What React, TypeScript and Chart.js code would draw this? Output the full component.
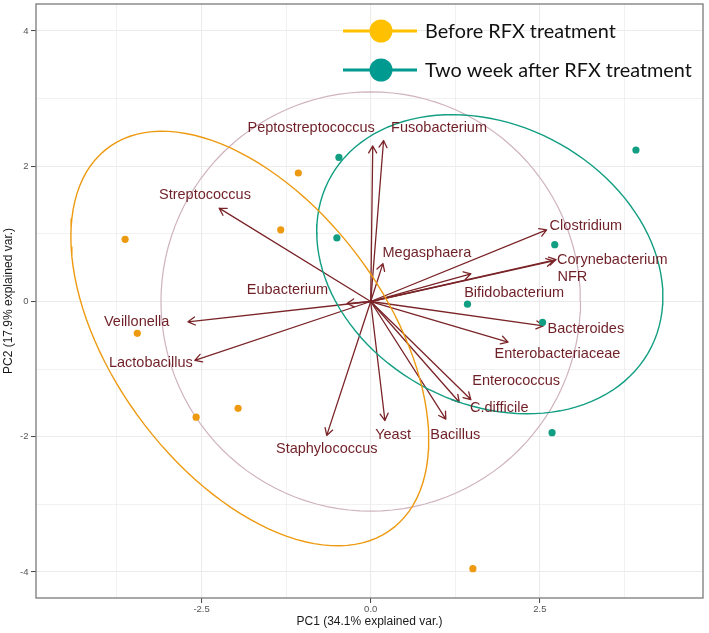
import React, { useEffect, useRef } from "react";
import { Chart, registerables } from "chart.js";

Chart.register(...registerables);

// ---- Sample scores (PC1, PC2) ----
const beforeX = [-3.63, -1.07, -1.33, -3.45, -2.58, -1.96, 1.51];
const beforeY = [0.92, 1.9, 1.06, -0.47, -1.71, -1.58, -3.95];
const afterX = [-0.47, -0.5, 3.92, 2.72, 1.43, 2.54, 2.68];
const afterY = [2.13, 0.94, 2.24, 0.84, -0.04, -0.31, -1.94];

// ---- Variable loadings (arrow tips) and label anchors, in PC units ----
const varNames = [
  "Peptostreptococcus", "Fusobacterium", "Megasphaera", "Streptococcus", "Eubacterium",
  "Veillonella", "Lactobacillus", "Staphylococcus", "Yeast", "Bacillus", "C.difficile",
  "Enterococcus", "Enterobacteriaceae", "Bacteroides", "Bifidobacterium", "NFR",
  "Corynebacterium", "Clostridium",
];
const arrowX = [0.03, 0.19, 0.18, -2.24, -0.35, -2.7, -2.6, -0.65, 0.21, 1.11, 1.48, 1.31, 2.03, 2.55, 1.48, 2.7, 2.74, 2.6];
const arrowY = [2.3, 2.38, 0.56, 1.38, -0.03, -0.3, -0.87, -1.98, -1.76, -1.74, -1.45, -1.49, -0.6, -0.36, 0.41, 0.6, 0.62, 1.06];
const labelX = [-0.88, 1.01, 0.83, -2.45, -1.23, -3.46, -3.25, -0.65, 0.33, 1.25, 1.9, 2.15, 2.76, 3.18, 2.12, 2.98, 3.57, 3.18];
const labelY = [2.57, 2.57, 0.71, 1.58, 0.17, -0.31, -0.91, -2.18, -1.97, -1.97, -1.58, -1.18, -0.78, -0.4, 0.13, 0.36, 0.61, 1.11];

const circleRadius = 3.1;
const ellipseProb = 0.68;

// ---- Axes ----
const xMin = -4.947;
const xMax = 4.911;
const yMin = -4.384;
const yMax = 4.399;
const xTicks = [-3.75, -2.5, -1.25, 0, 1.25, 2.5, 3.75];
const xTickLabels = ["", "-2.5", "", "0.0", "", "2.5", ""];
const yTicks = [-4, -3, -2, -1, 0, 1, 2, 3, 4];
const yTickLabels = ["-4", "", "-2", "", "0", "", "2", "", "4"];

const groupNames = ["Before RFX treatment", "Two week after RFX treatment"];

// ---- Styles ----
const ORANGE = "#ED9A10";
const TEAL = "#129E82";
const PINK = "#cfb3bf";
const ARROW = "#7a2428";
const LABEL = "#6f1f26";
const LEG_ORANGE = "#FFC000";
const LEG_TEAL = "#009A90";
const FONT = "'Liberation Sans', Arial, sans-serif";

function ellipsePoints(xs: number[], ys: number[]) {
  const n = xs.length;
  const mx = xs.reduce((a, b) => a + b, 0) / n;
  const my = ys.reduce((a, b) => a + b, 0) / n;
  let sxx = 0, syy = 0, sxy = 0;
  for (let i = 0; i < n; i++) {
    sxx += (xs[i] - mx) ** 2;
    syy += (ys[i] - my) ** 2;
    sxy += (xs[i] - mx) * (ys[i] - my);
  }
  sxx /= n - 1; syy /= n - 1; sxy /= n - 1;
  const r11 = Math.sqrt(sxx);
  const r12 = sxy / r11;
  const r22 = Math.sqrt(syy - r12 * r12);
  const ed = Math.sqrt(-2 * Math.log(1 - ellipseProb));
  const pts: { x: number; y: number }[] = [];
  for (let k = 0; k <= 120; k++) {
    const t = -Math.PI + (2 * Math.PI * k) / 120;
    const c = Math.cos(t), s = Math.sin(t);
    pts.push({ x: mx + ed * c * r11, y: my + ed * (c * r12 + s * r22) });
  }
  return pts;
}

function circlePoints(r: number) {
  const pts: { x: number; y: number }[] = [];
  for (let k = 0; k <= 120; k++) {
    const t = (2 * Math.PI * k) / 120;
    pts.push({ x: r * Math.cos(t), y: r * Math.sin(t) });
  }
  return pts;
}

const biplotPlugin = {
  id: "biplot",
  beforeDatasetsDraw(chart: any) {
    const { ctx, chartArea, scales } = chart;
    const x = scales.x, y = scales.y;
    ctx.save();
    ctx.beginPath();
    ctx.rect(chartArea.left, chartArea.top, chartArea.width, chartArea.height);
    ctx.clip();
    const ox = x.getPixelForValue(0);
    const oy = y.getPixelForValue(0);
    ctx.strokeStyle = ARROW;
    ctx.lineWidth = 1.3;
    ctx.lineCap = "round";
    ctx.lineJoin = "round";
    const head = 8;
    const ang = Math.PI / 6;
    for (let i = 0; i < arrowX.length; i++) {
      const tx = x.getPixelForValue(arrowX[i]);
      const ty = y.getPixelForValue(arrowY[i]);
      const a = Math.atan2(ty - oy, tx - ox);
      ctx.beginPath();
      ctx.moveTo(ox, oy);
      ctx.lineTo(tx, ty);
      ctx.moveTo(tx - head * Math.cos(a - ang), ty - head * Math.sin(a - ang));
      ctx.lineTo(tx, ty);
      ctx.lineTo(tx - head * Math.cos(a + ang), ty - head * Math.sin(a + ang));
      ctx.stroke();
    }
    ctx.restore();
  },
  afterDatasetsDraw(chart: any) {
    const { ctx, scales } = chart;
    const x = scales.x, y = scales.y;
    ctx.save();
    ctx.fillStyle = LABEL;
    ctx.font = `14.5px ${FONT}`;
    ctx.textAlign = "center";
    ctx.textBaseline = "middle";
    for (let i = 0; i < varNames.length; i++) {
      ctx.fillText(varNames[i], x.getPixelForValue(labelX[i]), y.getPixelForValue(labelY[i]));
    }
    ctx.restore();
  },
  afterDraw(chart: any) {
    const { ctx, chartArea } = chart;
    ctx.save();
    // panel border
    ctx.strokeStyle = "#7a7a7a";
    ctx.lineWidth = 1.3;
    ctx.strokeRect(chartArea.left, chartArea.top, chartArea.width, chartArea.height);
    // legend
    const rows = [
      { c: LEG_ORANGE, y: chartArea.top + 27 },
      { c: LEG_TEAL, y: chartArea.top + 66 },
    ];
    ctx.font = `20px Lato, 'Open Sans', sans-serif`;
    const w = ctx.measureText(groupNames[0]).width;
    const size = (20 * 191) / w;
    ctx.font = `${size}px Lato, 'Open Sans', sans-serif`;
    rows.forEach((r, i) => {
      ctx.strokeStyle = r.c;
      ctx.lineWidth = 3;
      ctx.beginPath();
      ctx.moveTo(343, r.y);
      ctx.lineTo(417, r.y);
      ctx.stroke();
      ctx.fillStyle = r.c;
      ctx.beginPath();
      ctx.arc(381, r.y, 11.5, 0, Math.PI * 2);
      ctx.fill();
      ctx.fillStyle = "#111";
      ctx.textAlign = "left";
      ctx.textBaseline = "middle";
      ctx.fillText(groupNames[i], 425, r.y + 1);
    });
    ctx.restore();
  },
};

export default function App() {
  const ref = useRef<HTMLCanvasElement | null>(null);
  useEffect(() => {
    if (!ref.current) return;
    const pts = (xs: number[], ys: number[]) => xs.map((v, i) => ({ x: v, y: ys[i] }));
    const isMajorX = (i: number) => xTickLabels[i] !== "";
    const isMajorY = (i: number) => yTickLabels[i] !== "";
    const chart = new Chart(ref.current, {
      type: "scatter",
      data: {
        datasets: [
          {
            label: groupNames[0],
            data: pts(beforeX, beforeY),
            backgroundColor: ORANGE,
            borderWidth: 0,
            pointRadius: 3.6,
            order: 1,
          },
          {
            label: groupNames[1],
            data: pts(afterX, afterY),
            backgroundColor: TEAL,
            borderWidth: 0,
            pointRadius: 3.6,
            order: 1,
          },
          {
            label: "ellipse-before",
            data: ellipsePoints(beforeX, beforeY),
            showLine: true,
            borderColor: ORANGE,
            borderWidth: 1.4,
            pointRadius: 0,
            order: 2,
          },
          {
            label: "ellipse-after",
            data: ellipsePoints(afterX, afterY),
            showLine: true,
            borderColor: TEAL,
            borderWidth: 1.4,
            pointRadius: 0,
            order: 2,
          },
          {
            label: "circle",
            data: circlePoints(circleRadius),
            showLine: true,
            borderColor: PINK,
            borderWidth: 1.2,
            pointRadius: 0,
            order: 3,
          },
        ],
      },
      options: {
        animation: false,
        responsive: false,
        events: [],
        layout: { padding: { left: 0, top: 3, right: 6, bottom: 0 } },
        plugins: { legend: { display: false }, tooltip: { enabled: false } },
        scales: {
          x: {
            type: "linear",
            min: xMin,
            max: xMax,
            afterBuildTicks: (s: any) => {
              s.ticks = xTicks.map((v) => ({ value: v }));
            },
            afterFit: (s: any) => {
              s.height = 35;
              s.paddingLeft = 0;
              s.paddingRight = 0;
            },
            ticks: {
              autoSkip: false,
              maxRotation: 0,
              padding: 1,
              color: "#555",
              font: { family: FONT, size: 9.5 },
              callback: (_v: any, i: number) => xTickLabels[i],
            },
            grid: {
              color: "#ebebeb",
              lineWidth: (c: any) => (isMajorX(c.index) ? 1.1 : 0.7),
              tickLength: 5,
              tickColor: (c: any) => (isMajorX(c.index) ? "#444" : "rgba(0,0,0,0)"),
              tickWidth: 1,
            },
            border: { display: false },
            title: {
              display: true,
              text: "PC1 (34.1% explained var.)",
              color: "#1a1a1a",
              font: { family: FONT, size: 12 },
              padding: { top: 0, bottom: 4 },
            },
          },
          y: {
            type: "linear",
            min: yMin,
            max: yMax,
            afterBuildTicks: (s: any) => {
              s.ticks = yTicks.map((v) => ({ value: v }));
            },
            afterFit: (s: any) => {
              s.width = 36;
              s.paddingTop = 0;
              s.paddingBottom = 0;
            },
            ticks: {
              autoSkip: false,
              padding: 2.5,
              color: "#555",
              font: { family: FONT, size: 9.5 },
              callback: (_v: any, i: number) => yTickLabels[i],
            },
            grid: {
              color: "#ebebeb",
              lineWidth: (c: any) => (isMajorY(c.index) ? 1.1 : 0.7),
              tickLength: 5,
              tickColor: (c: any) => (isMajorY(c.index) ? "#444" : "rgba(0,0,0,0)"),
              tickWidth: 1,
            },
            border: { display: false },
            title: {
              display: true,
              text: "PC2 (17.9% explained var.)",
              color: "#1a1a1a",
              font: { family: FONT, size: 12 },
              padding: { top: 1, bottom: 0 },
            },
          },
        },
      },
      plugins: [biplotPlugin],
    } as any);
    return () => chart.destroy();
  }, []);
  return (
    <div style={{ position: "absolute", left: 0, top: 0, width: 709, height: 633, background: "#fff" }}>
      <canvas ref={ref} width={709} height={633} style={{ display: "block" }} />
    </div>
  );
}
